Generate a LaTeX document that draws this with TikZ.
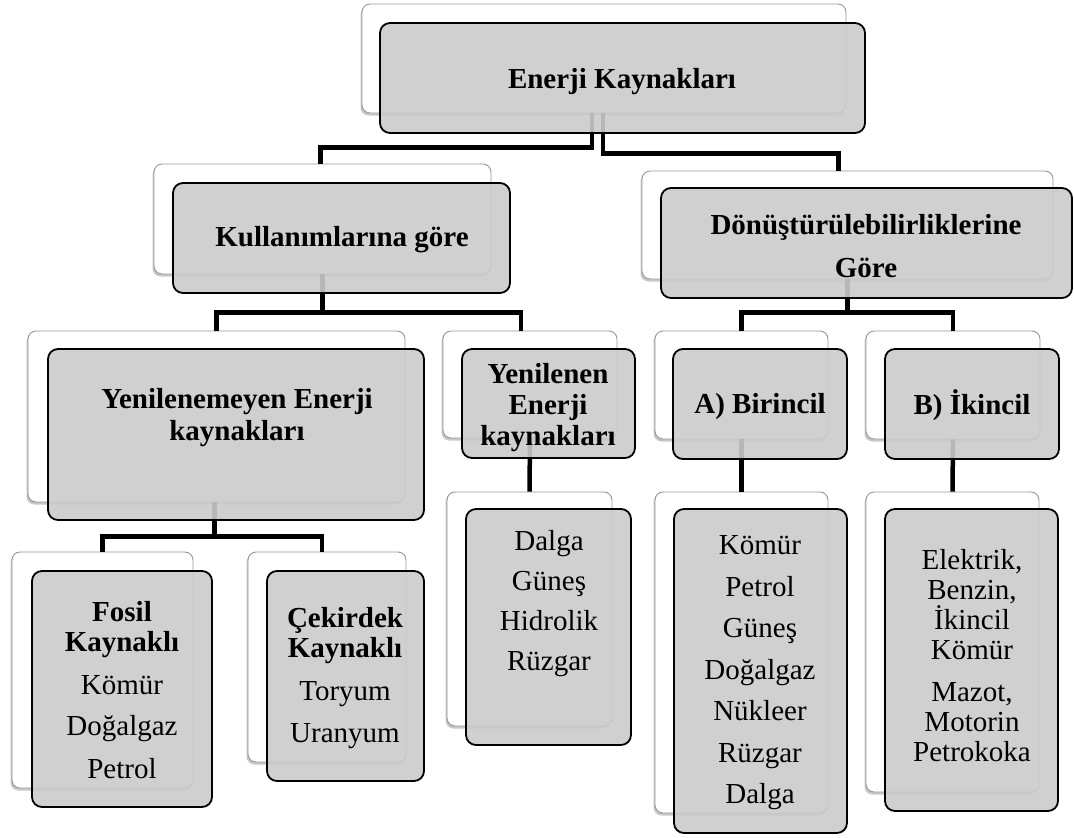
\documentclass[tikz,border=0pt]{standalone}
\usepackage{fontspec}
\setmainfont{Liberation Serif}
\usetikzlibrary{fit,shadows}
\definecolor{frontfill}{RGB}{203,203,203}
\definecolor{backline}{RGB}{150,150,150}
\begin{document}
\begin{tikzpicture}[x=1pt,y=-1pt,
  backbox/.style={draw=backline, line width=0.9pt, fill=white, rounded corners=8pt, inner sep=0pt,
    drop shadow={shadow xshift=-1.5pt, shadow yshift=-2.5pt, opacity=0.22, fill=black}},
  frontbox/.style={draw=black, line width=1.8pt, fill=frontfill, fill opacity=0.9, rounded corners=10pt, inner sep=0pt},
  wire/.style={line width=4.5pt, draw=black},
  lbl/.style={align=center, inner sep=0pt, font=\fontsize{29}{30}\selectfont},
  hd/.style={align=center, inner sep=0pt, font=\fontsize{29}{30}\selectfont\bfseries}]
\useasboundingbox (0,0) rectangle (1074,838);
% back (white) boxes
\node[backbox, fit={(362,4)(846,113)}] (rootW) {};
\node[backbox, fit={(154,164)(491,274)}] (kulW) {};
\node[backbox, fit={(642,171)(1053,279)}] (donW) {};
\node[backbox, fit={(28,331)(405,502)}] (yeW) {};
\node[backbox, fit={(443,331)(617,438)}] (ynW) {};
\node[backbox, fit={(655,331)(828,439)}] (b1W) {};
\node[backbox, fit={(866,331)(1040,439)}] (b2W) {};
\node[backbox, fit={(12,552)(193,788)}] (foW) {};
\node[backbox, fit={(248,552)(406,762)}] (ceW) {};
\node[backbox, fit={(447,492)(612,726)}] (daW) {};
\node[backbox, fit={(655,492)(828,813)}] (klW) {};
\node[backbox, fit={(866,492)(1039,792)}] (elW) {};
% connectors
\draw[wire] ([xshift=-12pt]rootW.south) -- ++(0,34) -| ([xshift=-2pt]kulW.north);
\draw[wire] ([xshift=-1pt]rootW.south) -- ++(0,40) -| ([xshift=-9pt]donW.north);
\draw[wire] (kulW.south) -- ++(0,39);
\draw[wire] (yeW.north) -- ++(0,-18) -| ([xshift=-9pt]ynW.north);
\draw[wire] (donW.south) -- ++(0,34);
\draw[wire] (b1W.north) -- ++(0,-18) -| (b2W.north);
\draw[wire] ([xshift=-2pt]yeW.south) -- ++(0,35);
\draw[wire] (foW.north) -- ++(0,-15) -| ([xshift=-5pt]ceW.north);
\draw[wire] (ynW.south) -- (daW.north);
\draw[wire] (b1W.south) -- (klW.north);
\draw[wire] (b2W.south) -- (elW.north);
% front (grey) boxes
\node[frontbox, fit={(380,23)(865,133)}] (rootG) {};
\node[frontbox, fit={(173,183)(510,293)}] (kulG) {};
\node[frontbox, fit={(661,188)(1072,298)}] (donG) {};
\node[frontbox, fit={(48,349)(424,520)}] (yeG) {};
\node[frontbox, fit={(462,349)(635,458)}] (ynG) {};
\node[frontbox, fit={(673,349)(847,459)}] (b1G) {};
\node[frontbox, fit={(885,349)(1059,459)}] (b2G) {};
\node[frontbox, fit={(32,571)(212,807)}] (foG) {};
\node[frontbox, fit={(267,571)(424,781)}] (ceG) {};
\node[frontbox, fit={(466,509)(631,745)}] (daG) {};
\node[frontbox, fit={(674,509)(847,833)}] (klG) {};
\node[frontbox, fit={(885,509)(1058,811)}] (elG) {};
% texts
\node[hd] (rootT) at (622,82) {Enerji Kaynakları};
\node[hd] (kulT) at (342,240) {Kullanımlarına göre};
\node[hd] (donT) at (866,246) {Dönüştürülebilirliklerine\\[13pt]Göre};
\node[hd] (yeT) at (237,418) {Yenilenemeyen Enerji\\[2pt]kaynakları};
\node[hd] (ynT) at (548,408) {Yenilenen\\[1pt]Enerji\\[1pt]kaynakları};
\node[hd] (b1T) at (760,407) {A) Birincil};
\node[hd] (b2T) at (972,405) {B) İkincil};
\node[lbl] (foT) at (122,690) {\textbf{Fosil}\\\textbf{Kaynaklı}\\[13pt]Kömür\\[11pt]Doğalgaz\\[13pt]Petrol};
\node[lbl] (ceT) at (345,678) {\textbf{Çekirdek}\\\textbf{Kaynaklı}\\[13pt]Toryum\\[12pt]Uranyum};
\node[lbl] (daT) at (549,604) {Dalga\\[10pt]Güneş\\[10pt]Hidrolik\\[10pt]Rüzgar};
\node[lbl] (klT) at (760,673) {Kömür\\[11.5pt]Petrol\\[11.5pt]Güneş\\[11.5pt]Doğalgaz\\[11.5pt]Nükleer\\[11.5pt]Rüzgar\\[11.5pt]Dalga};
\node[lbl] (elT) at (972,656) {Elektrik,\\Benzin,\\İkincil\\Kömür\\[12pt]Mazot,\\Motorin\\Petrokoka};
\end{tikzpicture}
\end{document}
